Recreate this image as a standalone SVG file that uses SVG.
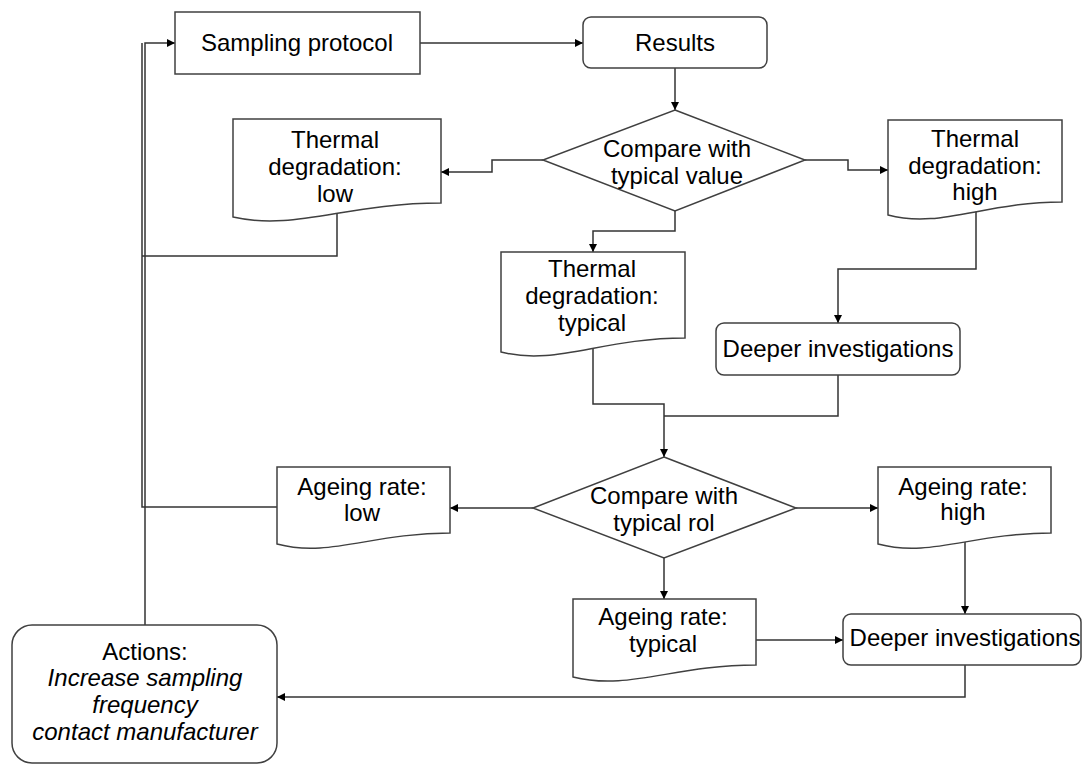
<svg xmlns="http://www.w3.org/2000/svg" width="1083" height="765" viewBox="0 0 1083 765">
<style>
.shape{fill:#fff;stroke:#404040;stroke-width:1.5}
.conn{fill:none;stroke:#333;stroke-width:1.5}
.t{font-family:"Liberation Sans",Arial,sans-serif;font-size:24px;fill:#000;text-anchor:middle}
.i{font-style:italic}
</style>
<defs>
<marker id="arr" viewBox="0 0 10 10" refX="10" refY="5" markerWidth="9" markerHeight="8" markerUnits="userSpaceOnUse" orient="auto">
<path d="M0,0 L10,5 L0,10 z" fill="#000"/>
</marker>
</defs>
<rect width="1083" height="765" fill="#fff"/>
<g id="connectors">
<path class="conn" d="M420,43 H583" marker-end="url(#arr)"/>
<path class="conn" d="M675,68 V110" marker-end="url(#arr)"/>
<path class="conn" d="M543,160 H492 V172 H441" marker-end="url(#arr)"/>
<path class="conn" d="M805,160 H848 V170 H888" marker-end="url(#arr)"/>
<path class="conn" d="M675,211 V231 H593 V252" marker-end="url(#arr)"/>
<path class="conn" d="M976,205 V269 H838 V323" marker-end="url(#arr)"/>
<path class="conn" d="M337,212 V256 H142"/>
<path class="conn" d="M593,345 V404 H664 V457" marker-end="url(#arr)"/>
<path class="conn" d="M838,375 V416 H664"/>
<path class="conn" d="M533,508 H450" marker-end="url(#arr)"/>
<path class="conn" d="M796,508 H878" marker-end="url(#arr)"/>
<path class="conn" d="M664,558 V599" marker-end="url(#arr)"/>
<path class="conn" d="M965,540 V614" marker-end="url(#arr)"/>
<path class="conn" d="M756,640 H843" marker-end="url(#arr)"/>
<path class="conn" d="M965,665 V697 H277" marker-end="url(#arr)"/>
<path class="conn" d="M277,507 H142 V43"/>
<path class="conn" d="M145,625 V43 H175" marker-end="url(#arr)"/>
</g>
<g id="sampling-protocol">
<rect class="shape" x="175" y="12" width="245" height="62"/>
<text class="t" x="297" y="51">Sampling protocol</text>
</g>
<g id="results">
<rect class="shape" x="583" y="17" width="184" height="51" rx="8"/>
<text class="t" x="675" y="51">Results</text>
</g>
<g id="compare-value">
<polygon class="shape" points="675,110 805,160 675,211 543,160"/>
<text class="t" x="677" y="157">Compare with</text>
<text class="t" x="677" y="184">typical value</text>
</g>
<g id="thermal-low">
<path class="shape" d="M233,119 H441 V203 C347,203 295,231 233,217 Z"/>
<text class="t" x="335" y="148">Thermal</text>
<text class="t" x="335" y="175">degradation:</text>
<text class="t" x="335" y="202">low</text>
</g>
<g id="thermal-high">
<path class="shape" d="M888,120 H1062 V202 C984,202 940,229 888,215 Z"/>
<text class="t" x="975" y="147">Thermal</text>
<text class="t" x="975" y="174">degradation:</text>
<text class="t" x="975" y="200">high</text>
</g>
<g id="thermal-typical">
<path class="shape" d="M501,252 H685 V338 C602,338 556,366 501,352 Z"/>
<text class="t" x="592" y="277">Thermal</text>
<text class="t" x="592" y="304">degradation:</text>
<text class="t" x="592" y="331">typical</text>
</g>
<g id="deeper-1">
<rect class="shape" x="716" y="323" width="244" height="52" rx="8"/>
<text class="t" x="838" y="357">Deeper investigations</text>
</g>
<g id="compare-rol">
<polygon class="shape" points="664,457 796,508 664,558 533,508"/>
<text class="t" x="664" y="504">Compare with</text>
<text class="t" x="664" y="531">typical rol</text>
</g>
<g id="ageing-low">
<path class="shape" d="M277,467 H450 V533 C372,533 329,558 277,544 Z"/>
<text class="t" x="362" y="495">Ageing rate:</text>
<text class="t" x="362" y="521">low</text>
</g>
<g id="ageing-high">
<path class="shape" d="M878,467 H1051 V533 C973,533 930,558 878,544 Z"/>
<text class="t" x="963" y="495">Ageing rate:</text>
<text class="t" x="963" y="520">high</text>
</g>
<g id="ageing-typical">
<path class="shape" d="M573,599 H756 V665 C674,665 628,691 573,677 Z"/>
<text class="t" x="663" y="625">Ageing rate:</text>
<text class="t" x="663" y="652">typical</text>
</g>
<g id="deeper-2">
<rect class="shape" x="843" y="614" width="238" height="51" rx="8"/>
<text class="t" x="965" y="646">Deeper investigations</text>
</g>
<g id="actions">
<rect class="shape" x="12" y="625" width="265" height="138" rx="20"/>
<text class="t" x="145" y="660">Actions:</text>
<text class="t i" x="145" y="686">Increase sampling</text>
<text class="t i" x="145" y="713">frequency</text>
<text class="t i" x="145" y="740">contact manufacturer</text>
</g>
</svg>
